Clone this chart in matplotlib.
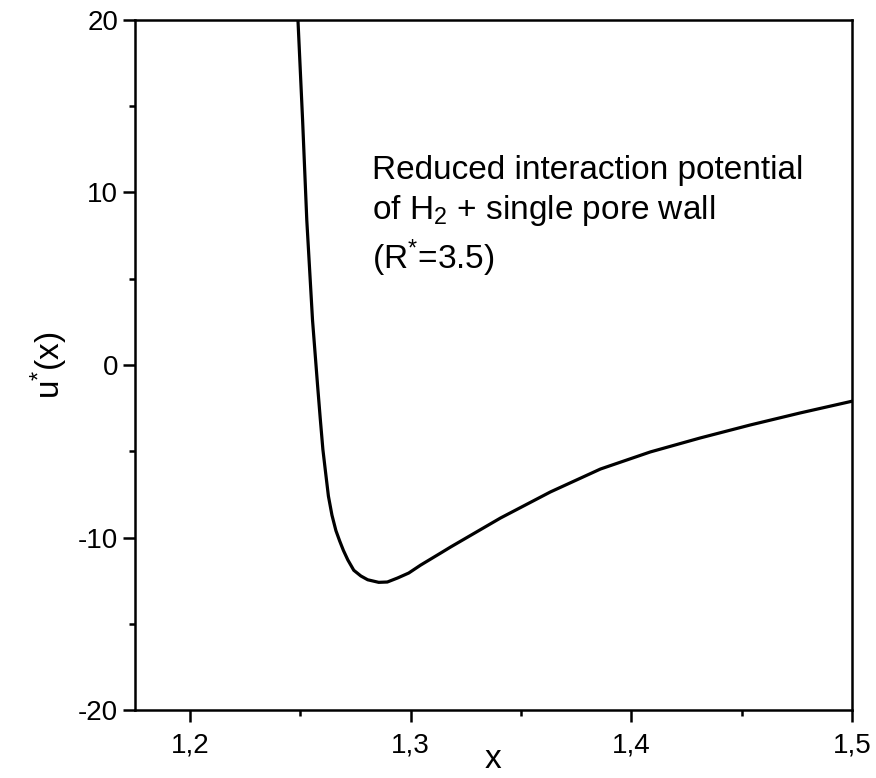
import matplotlib.pyplot as plt
import numpy as np
from matplotlib.ticker import MultipleLocator

plt.rcParams['font.family'] = ['Liberation Sans', 'DejaVu Sans']
plt.rcParams['mathtext.fontset'] = 'custom'
plt.rcParams['mathtext.rm'] = 'Liberation Sans'
plt.rcParams['mathtext.it'] = 'Liberation Sans'
plt.rcParams['axes.unicode_minus'] = False

# reduced potential u*(x)
x_vals = [1.2489, 1.2510, 1.2529, 1.2555, 1.2578, 1.2590, 1.2602, 1.2613,
          1.2627, 1.2643, 1.2661, 1.2678, 1.2695, 1.2715, 1.2742, 1.2774,
          1.2805, 1.2855, 1.2894, 1.2940, 1.2991, 1.3045, 1.3136, 1.3181,
          1.3407, 1.3633, 1.3860, 1.4086, 1.4312, 1.4538, 1.4765, 1.5000]
u_vals = [20.0, 14.2, 8.4, 2.6, -1.2, -3.1, -4.9, -6.1,
          -7.6, -8.7, -9.6, -10.2, -10.75, -11.3, -11.9, -12.23,
          -12.45, -12.6, -12.58, -12.35, -12.06, -11.6, -10.9, -10.55,
          -8.87, -7.36, -6.03, -5.04, -4.23, -3.48, -2.78, -2.1]

xticks = [1.2, 1.3, 1.4, 1.5]
xticklabels = ['1,2', '1,3', '1,4', '1,5']
yticks = [-20, -10, 0, 10, 20]

fig = plt.figure(figsize=(8.76, 7.78), dpi=100)
ax = fig.add_axes([0.154, 0.0874, 0.8186, 0.8869])

ax.plot(x_vals, u_vals, color='black', lw=2.3, solid_joinstyle='round')

ax.set_xlim(1.175, 1.5)
ax.set_ylim(-20, 20)
ax.set_xticks(xticks)
ax.set_xticklabels(xticklabels)
ax.set_yticks(yticks)
ax.xaxis.set_minor_locator(MultipleLocator(0.05))
ax.yaxis.set_minor_locator(MultipleLocator(5))

for s in ax.spines.values():
    s.set_linewidth(1.8)
ax.tick_params(which='major', direction='out', length=8.5, width=1.8, labelsize=20)
ax.tick_params(which='minor', direction='out', length=4.5, width=1.8)
ax.tick_params(axis='x', pad=8)

ax.set_xlabel('x', fontsize=24, labelpad=-11)
ax.set_ylabel(r'u$^{*}$(x)', fontsize=24, labelpad=6)

ax.text(1.2826, 12.2,
        'Reduced interaction potential\nof H$_{2}$ + single pore wall\n(R$^{*}$=3.5)',
        fontsize=24, va='top', ha='left', linespacing=1.3)

plt.savefig('out.png', dpi=100)
